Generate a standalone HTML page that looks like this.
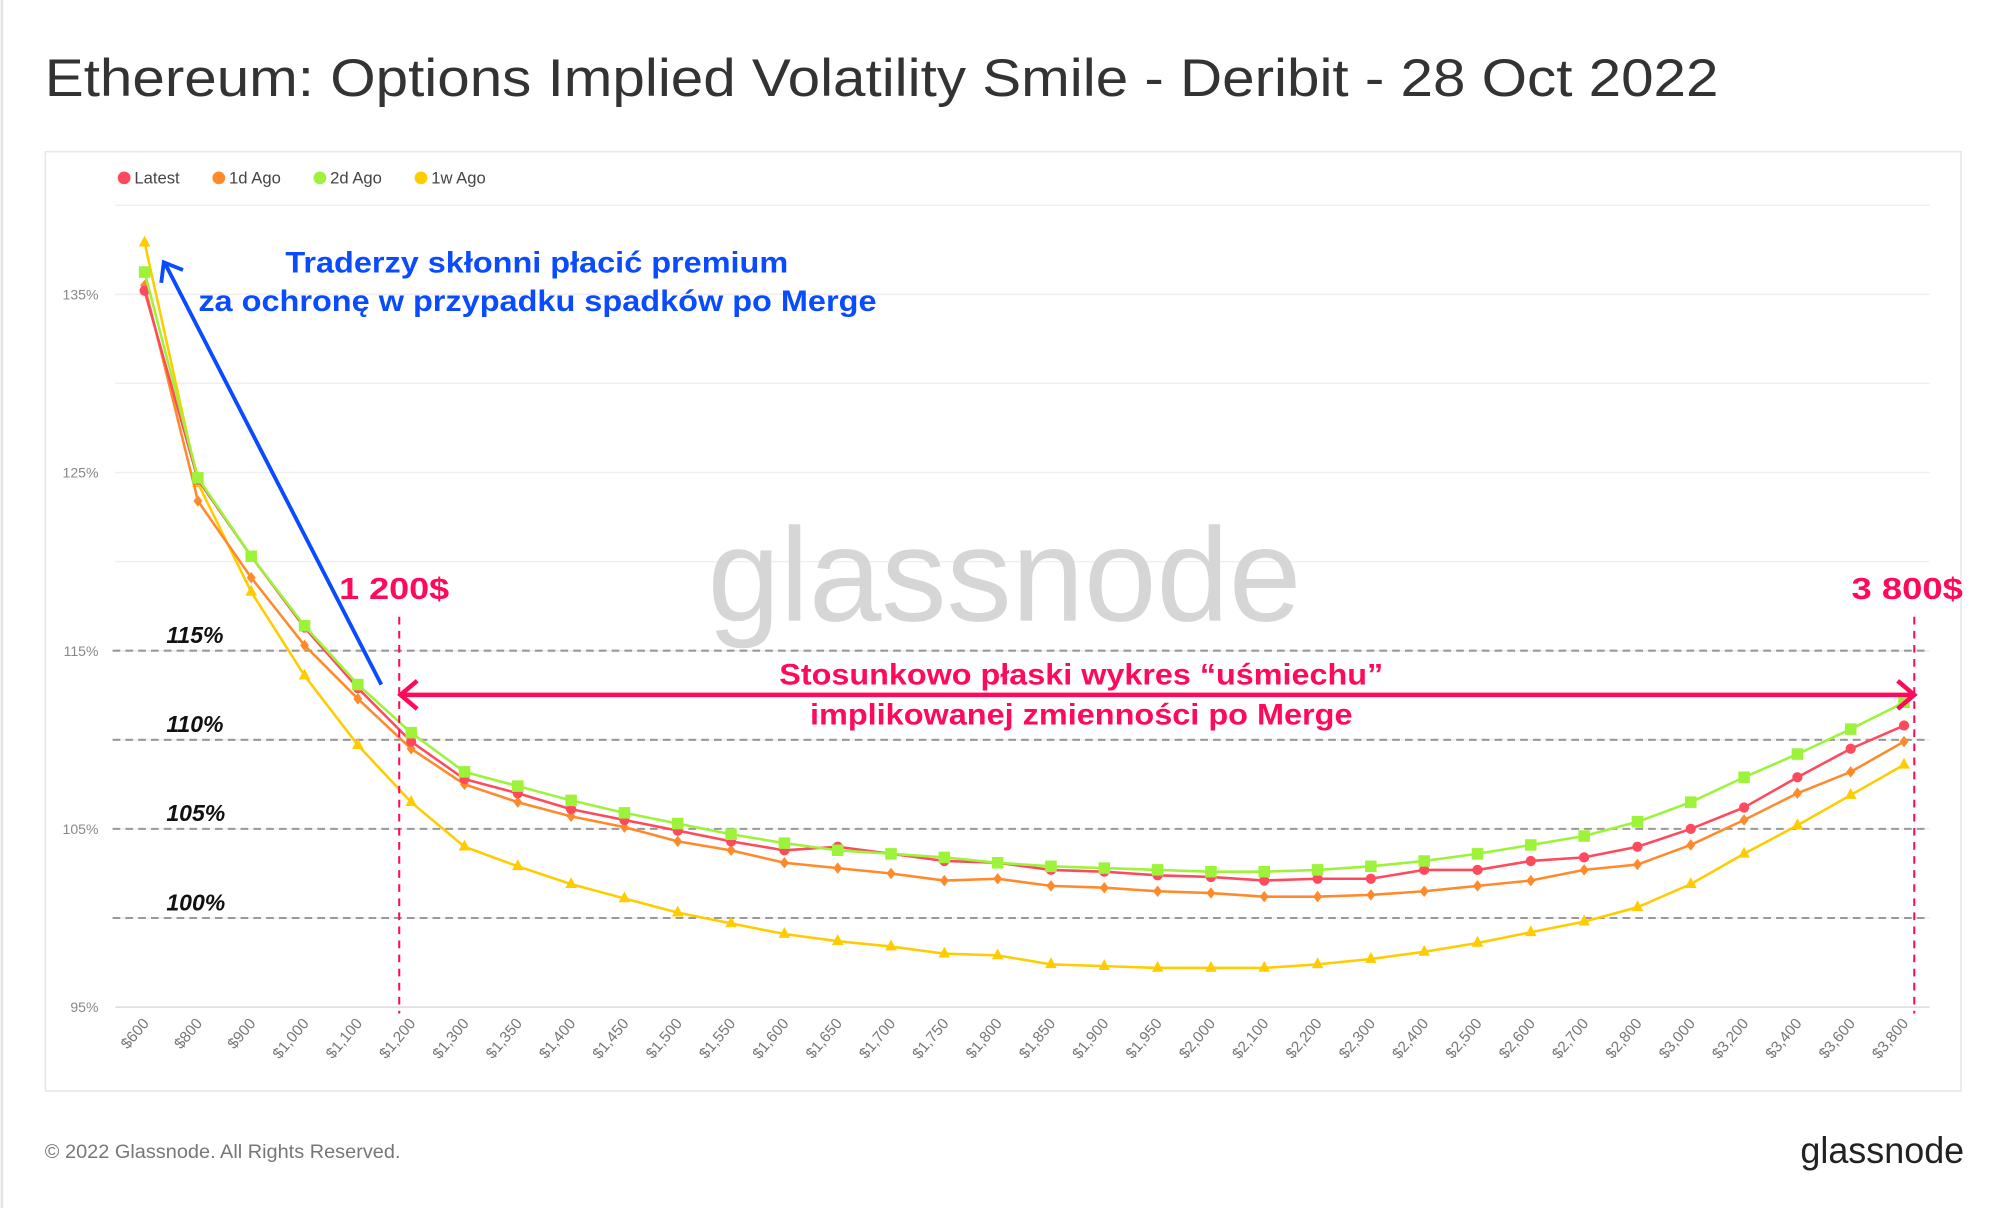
<!DOCTYPE html>
<html><head><meta charset="utf-8"><style>
html,body{margin:0;padding:0;background:#fff;}
svg{display:block;font-family:"Liberation Sans",sans-serif;}
</style></head><body>
<svg id="chart" width="2000" height="1208" viewBox="0 0 1563 944" preserveAspectRatio="none" xmlns="http://www.w3.org/2000/svg">
<rect x="0" y="0" width="1563" height="944" fill="#fff"/>
<line x1="1.5" y1="0" x2="1.5" y2="944" stroke="#e3e3e3" stroke-width="2"/>
<text x="35" y="75" font-size="41" fill="#333" textLength="1308" lengthAdjust="spacingAndGlyphs">Ethereum: Options Implied Volatility Smile - Deribit - 28 Oct 2022</text>
<rect x="35.5" y="118.5" width="1497" height="734" fill="none" stroke="#e6e6e6" stroke-width="1.2"/>
<g id="grid"></g>
<text x="553" y="485" font-size="104" fill="#d6d6d6" textLength="464" lengthAdjust="spacingAndGlyphs">glassnode</text>
<g id="annot-lines"></g>
<g id="series"></g>
<g id="xlabels"></g>
<g id="legend"></g>
<g>
<text x="223" y="213" font-size="23" font-weight="bold" fill="#0a4bff" textLength="393" lengthAdjust="spacingAndGlyphs">Traderzy skłonni płacić premium</text>
<text x="155" y="243" font-size="23" font-weight="bold" fill="#0a4bff" textLength="530" lengthAdjust="spacingAndGlyphs">za ochronę w przypadku spadków po Merge</text>
<line x1="298" y1="535" x2="129" y2="206" stroke="#0a4bff" stroke-width="3"/>
<polyline points="126,221 128,205 143,211" fill="none" stroke="#0a4bff" stroke-width="3"/>
<line x1="312" y1="482" x2="312" y2="792" stroke="#ff0a5a" stroke-width="1.6" stroke-dasharray="6,5"/>
<line x1="1496" y1="482" x2="1496" y2="792" stroke="#ff0a5a" stroke-width="1.6" stroke-dasharray="6,5"/>
<text x="265" y="468" font-size="24" font-weight="bold" fill="#ff0a5a" textLength="86" lengthAdjust="spacingAndGlyphs">1 200$</text>
<text x="1447" y="468" font-size="24" font-weight="bold" fill="#ff0a5a" textLength="87" lengthAdjust="spacingAndGlyphs">3 800$</text>
<line x1="313" y1="543" x2="1495" y2="543" stroke="#ff0a5a" stroke-width="3.5"/>
<polyline points="326,532 313,543 326,554" fill="none" stroke="#ff0a5a" stroke-width="3.5"/>
<polyline points="1483,532 1496,543 1483,554" fill="none" stroke="#ff0a5a" stroke-width="3.5"/>
<text x="609" y="535" font-size="23" font-weight="bold" fill="#ff0a5a" textLength="472" lengthAdjust="spacingAndGlyphs">Stosunkowo płaski wykres “uśmiechu”</text>
<text x="633" y="566" font-size="23" font-weight="bold" fill="#ff0a5a" textLength="424" lengthAdjust="spacingAndGlyphs">implikowanej zmienności po Merge</text>
</g>
<text x="35" y="905" font-size="15" fill="#777" textLength="278" lengthAdjust="spacingAndGlyphs">© 2022 Glassnode. All Rights Reserved.</text>
<text x="1407" y="909" font-size="29" fill="#222" font-weight="500" textLength="128" lengthAdjust="spacingAndGlyphs">glassnode</text>
</svg>
<script>
const categories = ["$600","$800","$900","$1,000","$1,100","$1,200","$1,300","$1,350","$1,400","$1,450","$1,500","$1,550","$1,600","$1,650","$1,700","$1,750","$1,800","$1,850","$1,900","$1,950","$2,000","$2,100","$2,200","$2,300","$2,400","$2,500","$2,600","$2,700","$2,800","$3,000","$3,200","$3,400","$3,600","$3,800"];
const latest = [135.2,124.6,120.3,116.3,112.9,109.9,107.8,107.0,106.1,105.5,104.9,104.3,103.8,104.0,103.6,103.2,103.1,102.7,102.6,102.4,102.3,102.1,102.2,102.2,102.7,102.7,103.2,103.4,104.0,105.0,106.2,107.9,109.5,110.8];
const ago1d = [135.5,123.4,119.1,115.3,112.3,109.5,107.5,106.5,105.7,105.1,104.3,103.8,103.1,102.8,102.5,102.1,102.2,101.8,101.7,101.5,101.4,101.2,101.2,101.3,101.5,101.8,102.1,102.7,103.0,104.1,105.5,107.0,108.2,109.9];
const ago2d = [136.25,124.7,120.3,116.4,113.1,110.4,108.2,107.4,106.6,105.9,105.3,104.7,104.2,103.8,103.6,103.4,103.1,102.9,102.8,102.7,102.6,102.6,102.7,102.9,103.2,103.6,104.1,104.6,105.4,106.5,107.9,109.2,110.6,112.1];
const ago1w = [137.9,124.4,118.3,113.6,109.7,106.5,104.0,102.9,101.9,101.1,100.3,99.7,99.1,98.7,98.4,98.0,97.9,97.4,97.3,97.2,97.2,97.2,97.4,97.7,98.1,98.6,99.2,99.8,100.6,101.9,103.6,105.2,106.9,108.6];
const yTicks = [135,125,115,105,95];
const gridVals = [140,135,130,125,120,115,110,105,100,95];
const annotVals = [115,110,105,100];

const NS = "http://www.w3.org/2000/svg";
function yS(v){ return 230 + (135 - v) * 13.925; }
function xS(i){ return 113 + i * (1375 / (categories.length - 1)); }
function mk(tag, attrs, parent){ const e = document.createElementNS(NS, tag); for (const k in attrs) e.setAttribute(k, attrs[k]); parent.appendChild(e); return e; }

const grid = document.getElementById('grid');
gridVals.forEach(v => {
  const l = mk('line', {x1: 90, x2: 1508, y1: yS(v), y2: yS(v), stroke: v === 95 ? '#dcdcdc' : '#efefef', 'stroke-width': 1.2}, grid);
  
  
});
yTicks.forEach(v => {
  const t = mk('text', {x: 77, y: yS(v) + 4, 'text-anchor': 'end', 'font-size': 11, fill: '#888'}, grid);
  t.textContent = v + '%';
  
  
});

const an = document.getElementById('annot-lines');
annotVals.forEach(v => {
  const l = mk('line', {x1: 88, x2: 1508, y1: yS(v), y2: yS(v), stroke: '#999', 'stroke-width': 1.6, 'stroke-dasharray': '6,4'}, an);
  
  
  const t = mk('text', {x: 130, y: yS(v) - 6, 'font-size': 18, 'font-weight': 'bold', 'font-style': 'italic', fill: '#111'}, an);
  t.textContent = v + '%';
  
  
});

const xl = document.getElementById('xlabels');
categories.forEach((c, i) => {
  const x = xS(i) + 4, y = 800;
  const t = mk('text', {x: x, y: y, 'text-anchor': 'end', 'font-size': 12, fill: '#777', transform: 'rotate(-50 ' + x + ' ' + y + ')'}, xl);
  t.textContent = c;
  
  
});

const seriesDefs = [
  {name: '1w Ago', data: ago1w, color: '#ffcc00', shape: 'tri'},
  {name: '1d Ago', data: ago1d, color: '#ff8a2b', shape: 'dia'},
  {name: 'Latest', data: latest, color: '#ff4a5e', shape: 'circ'},
  {name: '2d Ago', data: ago2d, color: '#9cf33a', shape: 'sq'}
];
const sg = document.getElementById('series');
seriesDefs.forEach(s => {
  const g = mk('g', {}, sg);
  
  
  const pts = s.data.map((v, i) => xS(i).toFixed(1) + ',' + yS(v).toFixed(1)).join(' ');
  const pl = mk('polyline', {points: pts, fill: 'none', stroke: s.color, 'stroke-width': 2}, g);
  
  
  s.data.forEach((v, i) => {
    const x = xS(i), y = yS(v);
    let m;
    if (s.shape === 'circ') m = mk('circle', {cx: x, cy: y, r: 4, fill: s.color}, g);
    else if (s.shape === 'sq') m = mk('rect', {x: x - 4.5, y: y - 4.5, width: 9, height: 9, fill: s.color}, g);
    else if (s.shape === 'dia') m = mk('polygon', {points: `${x},${y-4.5} ${x+3.5},${y} ${x},${y+4.5} ${x-3.5},${y}`, fill: s.color}, g);
    else m = mk('polygon', {points: `${x},${y-5.5} ${x+4.5},${y+3} ${x-4.5},${y+3}`, fill: s.color}, g);
    
    
  });
});

const legendItems = [['Latest', '#ff4a5e', 97], ['1d Ago', '#ff8a2b', 171], ['2d Ago', '#9cf33a', 250], ['1w Ago', '#ffcc00', 329]];
const lg = document.getElementById('legend');
legendItems.forEach(it => {
  const g = mk('g', {}, lg);
  
  
  mk('circle', {cx: it[2], cy: 139, r: 5, fill: it[1]}, g);
  const t = mk('text', {x: it[2] + 8, y: 143.5, 'font-size': 13, fill: '#444'}, g);
  t.textContent = it[0];
});
</script>
</body></html>
